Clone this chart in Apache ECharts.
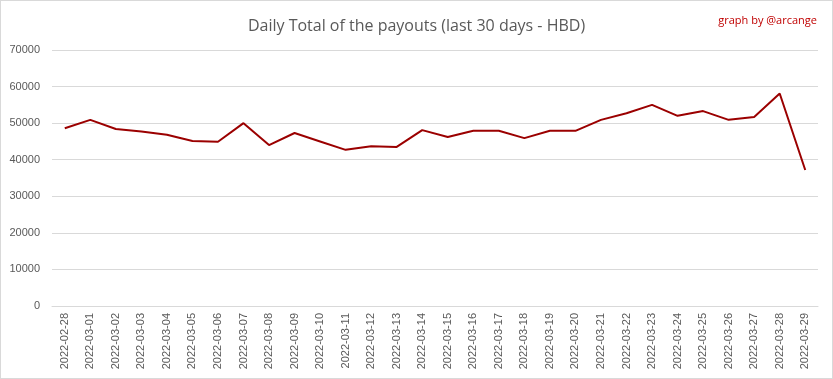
<!DOCTYPE html>
<html><head><meta charset="utf-8">
<script src="https://cdn.jsdelivr.net/npm/echarts@6/dist/echarts.min.js"></script>
<style>html,body{margin:0;padding:0;background:#fff}#c{width:833px;height:379px;box-sizing:border-box;border:1px solid #d9d9d9;}</style>
</head><body><div id="c"></div>
<script>
const categories = ["2022-02-28","2022-03-01","2022-03-02","2022-03-03","2022-03-04","2022-03-05","2022-03-06","2022-03-07","2022-03-08","2022-03-09","2022-03-10","2022-03-11","2022-03-12","2022-03-13","2022-03-14","2022-03-15","2022-03-16","2022-03-17","2022-03-18","2022-03-19","2022-03-20","2022-03-21","2022-03-22","2022-03-23","2022-03-24","2022-03-25","2022-03-26","2022-03-27","2022-03-28","2022-03-29"];
const payouts = [48600,50900,48400,47700,46800,45100,44900,50000,44000,47300,45000,42700,43700,43500,48100,46200,47900,47900,45900,47900,47900,50900,52700,55000,52000,53300,50900,51700,58100,37200];
const yTicks = {min:0, max:70000, interval:10000};
const chart = echarts.init(document.getElementById('c'), null, {renderer:'canvas'});
chart.setOption({
  animation:false,
  title:[{text:'Daily Total of the payouts (last 30 days - HBD)', left:'center', top:12,
    textStyle:{fontFamily:'Open Sans', fontWeight:'normal', fontSize:16, color:'#595959'}},
    {text:'graph by @arcange', right:10, top:9, textStyle:{fontFamily:'Open Sans', fontWeight:'normal', fontSize:11, color:'#c00000'}}],
  grid:{left:51, right:14, top:49, bottom:72},
  xAxis:{type:'category', data:categories, boundaryGap:true,
    axisLine:{lineStyle:{color:'#d9d9d9'}}, axisTick:{show:false},
    axisLabel:{rotate:90, interval:0, fontFamily:'Liberation Sans', fontSize:11, color:'#595959', margin:7}},
  yAxis:{type:'value', min:yTicks.min, max:yTicks.max, interval:yTicks.interval,
    axisLine:{show:false}, axisTick:{show:false},
    splitLine:{lineStyle:{color:'#d9d9d9'}},
    axisLabel:{fontFamily:'Liberation Sans', fontSize:11, color:'#595959', margin:12, formatter:v=>String(v)}},
  series:[{type:'line', data:payouts, symbol:'none', lineStyle:{color:'#9b0000', width:2}}]
});
</script></body></html>
